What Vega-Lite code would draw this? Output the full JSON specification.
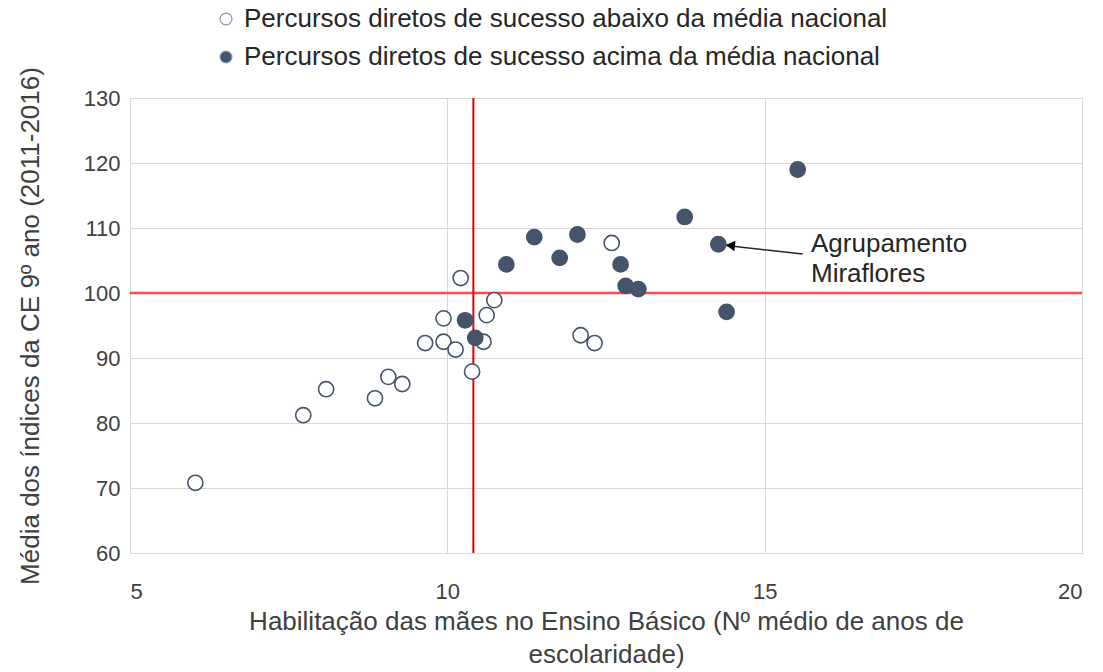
{
  "$schema": "https://vega.github.io/schema/vega-lite/v6.json",
  "autosize": {"type": "none"},
  "width": 952,
  "height": 455,
  "padding": {"left": 130, "top": 98, "right": 21, "bottom": 119},
  "config": {
    "font": "Liberation Sans",
    "view": {"stroke": "#d9d9d9", "strokeWidth": 1},
    "axis": {"labelFontSize": 22, "titleFontSize": 26, "labelColor": "#404040", "titleColor": "#404040", "titleFontWeight": "normal", "gridColor": "#d9d9d9", "ticks": false, "domain": false, "labelFont": "Liberation Sans", "titleFont": "Liberation Sans"}
  },
  "datasets": {
    "pts": [
      {"mae": 6.03, "ind": 70.8, "grupo": "Percursos diretos de sucesso abaixo da média nacional"},
      {"mae": 7.73, "ind": 81.2, "grupo": "Percursos diretos de sucesso abaixo da média nacional"},
      {"mae": 8.09, "ind": 85.2, "grupo": "Percursos diretos de sucesso abaixo da média nacional"},
      {"mae": 8.86, "ind": 83.8, "grupo": "Percursos diretos de sucesso abaixo da média nacional"},
      {"mae": 9.07, "ind": 87.1, "grupo": "Percursos diretos de sucesso abaixo da média nacional"},
      {"mae": 9.29, "ind": 86.0, "grupo": "Percursos diretos de sucesso abaixo da média nacional"},
      {"mae": 9.65, "ind": 92.3, "grupo": "Percursos diretos de sucesso abaixo da média nacional"},
      {"mae": 9.94, "ind": 96.1, "grupo": "Percursos diretos de sucesso abaixo da média nacional"},
      {"mae": 9.94, "ind": 92.5, "grupo": "Percursos diretos de sucesso abaixo da média nacional"},
      {"mae": 10.13, "ind": 91.3, "grupo": "Percursos diretos de sucesso abaixo da média nacional"},
      {"mae": 10.21, "ind": 102.3, "grupo": "Percursos diretos de sucesso abaixo da média nacional"},
      {"mae": 10.39, "ind": 87.9, "grupo": "Percursos diretos de sucesso abaixo da média nacional"},
      {"mae": 10.57, "ind": 92.5, "grupo": "Percursos diretos de sucesso abaixo da média nacional"},
      {"mae": 10.62, "ind": 96.6, "grupo": "Percursos diretos de sucesso abaixo da média nacional"},
      {"mae": 10.74, "ind": 98.9, "grupo": "Percursos diretos de sucesso abaixo da média nacional"},
      {"mae": 12.1, "ind": 93.5, "grupo": "Percursos diretos de sucesso abaixo da média nacional"},
      {"mae": 12.32, "ind": 92.3, "grupo": "Percursos diretos de sucesso abaixo da média nacional"},
      {"mae": 12.59, "ind": 107.7, "grupo": "Percursos diretos de sucesso abaixo da média nacional"},
      {"mae": 10.28, "ind": 95.8, "grupo": "Percursos diretos de sucesso acima da média nacional"},
      {"mae": 10.44, "ind": 93.1, "grupo": "Percursos diretos de sucesso acima da média nacional"},
      {"mae": 10.93, "ind": 104.4, "grupo": "Percursos diretos de sucesso acima da média nacional"},
      {"mae": 11.37, "ind": 108.6, "grupo": "Percursos diretos de sucesso acima da média nacional"},
      {"mae": 11.77, "ind": 105.4, "grupo": "Percursos diretos de sucesso acima da média nacional"},
      {"mae": 12.05, "ind": 109.0, "grupo": "Percursos diretos de sucesso acima da média nacional"},
      {"mae": 12.73, "ind": 104.4, "grupo": "Percursos diretos de sucesso acima da média nacional"},
      {"mae": 12.81, "ind": 101.1, "grupo": "Percursos diretos de sucesso acima da média nacional"},
      {"mae": 13.01, "ind": 100.6, "grupo": "Percursos diretos de sucesso acima da média nacional"},
      {"mae": 13.74, "ind": 111.7, "grupo": "Percursos diretos de sucesso acima da média nacional"},
      {"mae": 14.27, "ind": 107.5, "grupo": "Percursos diretos de sucesso acima da média nacional"},
      {"mae": 14.4, "ind": 97.1, "grupo": "Percursos diretos de sucesso acima da média nacional"},
      {"mae": 15.52, "ind": 119.0, "grupo": "Percursos diretos de sucesso acima da média nacional"}
    ]
  },
  "layer": [
    {
      "data": {"values": [{"v": 100}]},
      "mark": {"type": "rule", "color": "#ff4b4b", "strokeWidth": 2.5},
      "encoding": {"y": {"field": "v", "type": "quantitative", "scale": {"domain": [60, 130]}}}
    },
    {
      "data": {"values": [{"v": 10.41}]},
      "mark": {"type": "rule", "color": "#e60000", "strokeWidth": 2},
      "encoding": {"x": {"field": "v", "type": "quantitative", "scale": {"domain": [5, 20]}}}
    },
    {
      "data": {"name": "pts"},
      "mark": {"type": "point", "filled": true, "size": 230, "stroke": "#44546A", "strokeWidth": 1.6, "opacity": 1},
      "encoding": {
        "x": {"field": "mae", "type": "quantitative", "scale": {"domain": [5, 20], "nice": false},
          "axis": {"values": [5, 10, 15, 20], "format": "d", "grid": true, "labelPadding": 28, "titlePadding": 6,
            "title": ["Habilitação das mães no Ensino Básico (Nº médio de anos de", "escolaridade)"], "titleLineHeight": 33}},
        "y": {"field": "ind", "type": "quantitative", "scale": {"domain": [60, 130], "nice": false},
          "axis": {"values": [60, 70, 80, 90, 100, 110, 120, 130], "grid": true, "labelPadding": 10, "titlePadding": 40,
            "title": "Média dos índices da CE 9º ano (2011-2016)"}},
        "fill": {"field": "grupo", "type": "nominal",
          "scale": {"domain": ["Percursos diretos de sucesso abaixo da média nacional", "Percursos diretos de sucesso acima da média nacional"], "range": ["#ffffff", "#44546A"]},
          "legend": {"title": null, "orient": "none", "legendX": 83, "legendY": -92, "direction": "vertical", "labelLimit": 0,
            "labelFontSize": 26, "labelColor": "#262626", "symbolSize": 140, "symbolStrokeColor": "#8497b0", "symbolStrokeWidth": 1.2, "rowPadding": 12, "labelOffset": 5, "symbolType": "circle"}}
      }
    },
    {
      "data": {"values": [{"x1": 15.6, "y1": 106.0, "x2": 14.4, "y2": 107.3}]},
      "mark": {"type": "rule", "color": "#262626", "strokeWidth": 1.5},
      "encoding": {
        "x": {"field": "x1", "type": "quantitative"},
        "y": {"field": "y1", "type": "quantitative"},
        "x2": {"field": "x2"},
        "y2": {"field": "y2"}
      }
    },
    {
      "data": {"values": [{"x": 14.46, "y": 107.3}]},
      "mark": {"type": "point", "shape": "triangle-left", "filled": true, "color": "#000000", "size": 110, "angle": 6, "opacity": 1},
      "encoding": {
        "x": {"field": "x", "type": "quantitative"},
        "y": {"field": "y", "type": "quantitative"}
      }
    },
    {
      "data": {"values": [{"x": 15.73, "y": 107.5, "t": "Agrupamento\nMiraflores"}]},
      "mark": {"type": "text", "align": "left", "baseline": "middle", "fontSize": 26, "lineBreak": "\n", "lineHeight": 30, "color": "#262626"},
      "encoding": {
        "x": {"field": "x", "type": "quantitative"},
        "y": {"field": "y", "type": "quantitative"},
        "text": {"field": "t"}
      }
    }
  ]
}
